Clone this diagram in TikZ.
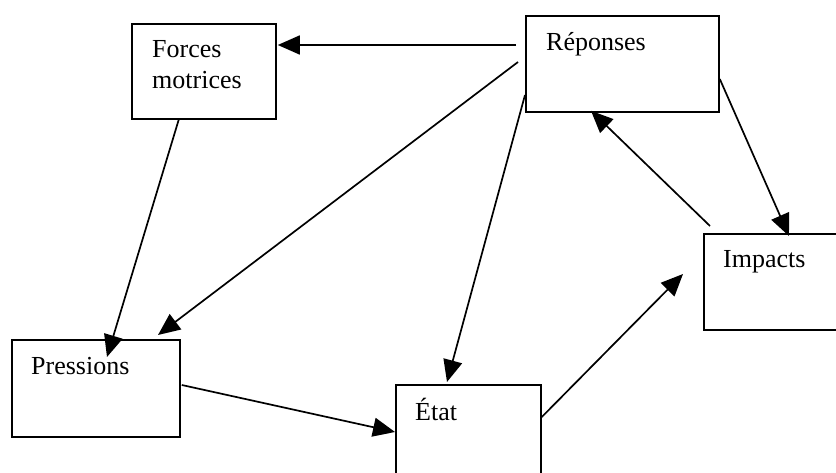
\documentclass[tikz,border=0pt]{standalone}
\usepackage{fontspec}
\setmainfont{Liberation Serif}
\usetikzlibrary{arrows.meta}

\tikzset{
  box/.style={draw, line width=1.8pt, anchor=north west, inner sep=0pt},
  boxtext/.style={anchor=base west, inner sep=0pt, align=left,
    font=\fontsize{26}{31}\selectfont},
  arr/.style={line width=1.7pt, -{Triangle[length=22pt,width=19pt]}}
}

\begin{document}
\begin{tikzpicture}[x=1pt,y=-1pt]
\useasboundingbox (0,0) rectangle (836,473);
\clip (0,0) rectangle (836,473);
% boxes
\node[box, minimum width=144pt, minimum height=95pt] (forces) at (131,23) {};
\node[box, minimum width=193pt, minimum height=96pt] (rep) at (525,15) {};
\node[box, minimum width=140pt, minimum height=96pt] (impacts) at (703,233) {};
\node[box, minimum width=168pt, minimum height=97pt] (press) at (11,339) {};
\node[box, minimum width=145pt, minimum height=100pt] (etat) at (395,384) {};
% texts (base of the last line)
\node[boxtext] (forcestxt) at ([shift={(21,66)}]forces.north west) {Forces\\motrices};
\node[boxtext] (reptxt) at ([shift={(21,36)}]rep.north west) {Réponses};
\node[boxtext] (impactstxt) at ([shift={(20,35)}]impacts.north west) {Impacts};
\node[boxtext] (presstxt) at ([shift={(20,35)}]press.north west) {Pressions};
\node[boxtext] (etattxt) at ([shift={(20,36)}]etat.north west) {État};
% arrows
\draw[arr] ([shift={(-9,30)}]rep.north west) -- ([shift={(1,22)}]forces.north east);
\draw[arr] ([shift={(-7,47)}]rep.north west) -- ([shift={(147,-4)}]press.north west);
\draw[arr] ([shift={(0,80)}]rep.north west) -- ([shift={(52,-2)}]etat.north west);
\draw[arr] ([shift={(48,-1)}]forces.south west) -- ([shift={(96,18)}]press.north west);
\draw[arr] ([shift={(1,46)}]press.north east) -- ([shift={(0,48)}]etat.north west);
\draw[arr] ([shift={(0,33)}]etat.north east) -- ([shift={(-20,41)}]impacts.north west);
\draw[arr] ([shift={(7,-7)}]impacts.north west) -- ([shift={(66,-2)}]rep.south west);
\draw[arr] ([shift={(0,64)}]rep.north east) -- ([shift={(86,3)}]impacts.north west);
\end{tikzpicture}
\end{document}
